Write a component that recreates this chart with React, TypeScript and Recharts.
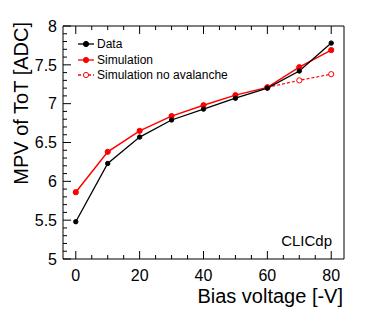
import { LineChart, Line, XAxis, YAxis, Legend } from 'recharts'

const voltages = [0, 10, 20, 30, 40, 50, 60, 70, 80]
const dataMpv = [5.48, 6.23, 6.57, 6.79, 6.93, 7.07, 7.2, 7.42, 7.78]
const simMpv = [5.86, 6.38, 6.65, 6.84, 6.98, 7.11, 7.21, 7.47, 7.69]
const simNoAvalanche = [null, null, null, null, null, null, 7.21, 7.3, 7.38]

const xTicks = [0, 20, 40, 60, 80]
const xMinorTicks = [0, 5, 10, 15, 20, 25, 30, 35, 40, 45, 50, 55, 60, 65, 70, 75, 80]
const yTicks = [5, 5.5, 6, 6.5, 7, 7.5, 8]
const yMinorTicks = Array.from({ length: 31 }, (_, i) => +(5 + i * 0.1).toFixed(1))

const rows = voltages.map((v, i) => ({
  v,
  data: dataMpv[i],
  sim: simMpv[i],
  noAv: simNoAvalanche[i],
}))

const legendItems = [
  { name: 'Data', color: '#000', dash: undefined, open: false },
  { name: 'Simulation', color: '#ff0000', dash: undefined, open: false },
  { name: 'Simulation no avalanche', color: '#ff0000', dash: '3 2', open: true },
]

const FONT = '"Liberation Sans", Arial, Helvetica, sans-serif'

// ticks point into the frame, ROOT style; majors are longer and may carry a label
const tickX = (majors: number[], side: 'bottom' | 'top', label: boolean) => (p: any) => {
  const dir = side === 'bottom' ? -1 : 1
  const major = majors.includes(p.payload.value)
  const len = major ? 8 : 4
  return (
    <g>
      <line x1={p.x} y1={p.y} x2={p.x} y2={p.y + dir * len} stroke="#000" />
      {label && major && (
        <text x={p.x} y={p.y + 22} textAnchor="middle" fontSize={16} fontFamily={FONT} fill="#000">
          {p.payload.value}
        </text>
      )}
    </g>
  )
}

const tickY = (majors: number[], side: 'left' | 'right', label: boolean) => (p: any) => {
  const dir = side === 'left' ? 1 : -1
  const major = majors.includes(p.payload.value)
  const len = major ? 8 : 4
  return (
    <g>
      <line x1={p.x} y1={p.y} x2={p.x + dir * len} y2={p.y} stroke="#000" />
      {label && major && (
        <text x={p.x - 6} y={p.y} dy="0.36em" textAnchor="end" fontSize={16} fontFamily={FONT} fill="#000">
          {p.payload.value}
        </text>
      )}
    </g>
  )
}

const LegendBox = () => (
  <div style={{ fontFamily: FONT, fontSize: 12, color: '#000' }}>
    {legendItems.map(it => (
      <div key={it.name} style={{ display: 'flex', alignItems: 'center', height: 15.7 }}>
        <svg width={20} height={12} style={{ marginRight: 1 }}>
          <line x1={2} y1={6} x2={18} y2={6} stroke={it.color} strokeWidth={1.3} strokeDasharray={it.dash} />
          <circle cx={10} cy={6} r={2.6} fill={it.open ? '#fff' : it.color} stroke={it.color} />
        </svg>
        <span>{it.name}</span>
      </div>
    ))}
  </div>
)

export default function App() {
  const frame = { stroke: '#000', strokeWidth: 1 }
  return (
    <div style={{ position: 'absolute', left: 0, top: 0, width: 374, height: 317, background: '#fff', fontFamily: FONT }}>
      <LineChart width={374} height={317} data={rows} margin={{ top: 25, right: 29, bottom: 57, left: 62 }}>
        <XAxis xAxisId="x" dataKey="v" type="number" domain={[-4, 84]} ticks={xMinorTicks} interval={0}
          height={1} tickSize={0} tickMargin={0} tickLine={false} axisLine={frame} tick={tickX(xTicks, 'bottom', true)} />
        <XAxis xAxisId="xt" orientation="top" dataKey="v" type="number" domain={[-4, 84]} ticks={xMinorTicks} interval={0}
          height={1} tickSize={0} tickMargin={0} tickLine={false} axisLine={frame} tick={tickX(xTicks, 'top', false)} />
        <YAxis yAxisId="y" type="number" domain={[5, 8]} ticks={yMinorTicks} interval={0}
          width={1} tickSize={0} tickMargin={0} tickLine={false} axisLine={frame} tick={tickY(yTicks, 'left', true)} />
        <YAxis yAxisId="yr" orientation="right" type="number" domain={[5, 8]} ticks={yMinorTicks} interval={0}
          width={1} tickSize={0} tickMargin={0} tickLine={false} axisLine={frame} tick={tickY(yTicks, 'right', false)} />
        <Legend layout="vertical" align="center" verticalAlign="middle" content={<LegendBox />}
          wrapperStyle={{ top: 36, left: 76, width: 'auto', height: 'auto' }} />
        <Line xAxisId="x" yAxisId="y" dataKey="noAv" name="Simulation no avalanche" stroke="#ff0000" strokeWidth={1.2}
          strokeDasharray="3 2" dot={{ r: 2.6, fill: '#fff', stroke: '#ff0000', strokeWidth: 1, strokeDasharray: '' }}
          isAnimationActive={false} connectNulls={false} />
        <Line xAxisId="x" yAxisId="y" dataKey="sim" name="Simulation" stroke="#ff0000" strokeWidth={1.5}
          dot={{ r: 2.6, fill: '#ff0000', stroke: '#ff0000', strokeWidth: 1 }} isAnimationActive={false} />
        <Line xAxisId="x" yAxisId="y" dataKey="data" name="Data" stroke="#000" strokeWidth={1.3}
          dot={{ r: 2.2, fill: '#000', stroke: '#000', strokeWidth: 1 }} isAnimationActive={false} />
      </LineChart>
      <div style={{ position: 'absolute', right: 42, top: 233, fontSize: 15, lineHeight: '15px', color: '#000' }}>CLICdp</div>
      <div style={{ position: 'absolute', right: 31, top: 286, fontSize: 20, lineHeight: '20px', color: '#000', whiteSpace: 'nowrap' }}>
        Bias voltage [-V]
      </div>
      <div style={{
        position: 'absolute', left: 21, top: 22, fontSize: 20, color: '#000', whiteSpace: 'nowrap',
        transformOrigin: '0 0', transform: 'rotate(-90deg) translate(-100%, -50%)',
      }}>
        MPV of ToT [ADC]
      </div>
    </div>
  )
}
